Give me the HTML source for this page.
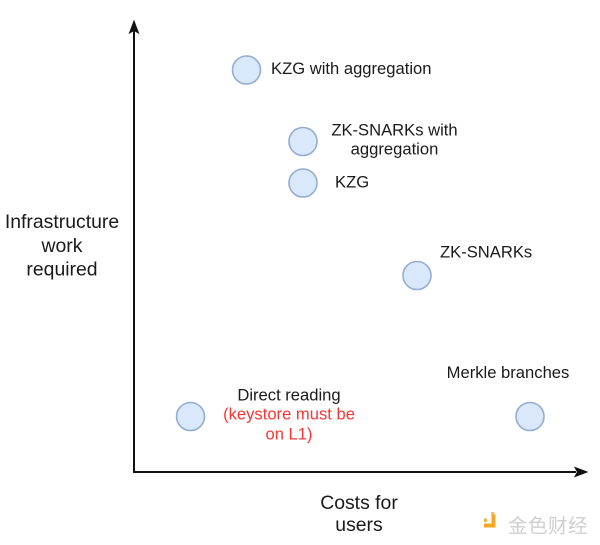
<!DOCTYPE html>
<html>
<head>
<meta charset="utf-8">
<style>
  html, body { margin: 0; padding: 0; background: #ffffff; }
  body { width: 600px; height: 545px; overflow: hidden; }
  svg { display: block; }
  text { font-family: "Liberation Sans", "Noto Sans CJK SC", sans-serif; fill: #1a1a1a; }
</style>
</head>
<body>
<svg width="600" height="545" viewBox="0 0 600 545" xmlns="http://www.w3.org/2000/svg">
  <rect x="0" y="0" width="600" height="545" fill="#ffffff"/>

  <!-- Axes -->
  <line x1="134" y1="472" x2="134" y2="31" stroke="#111" stroke-width="2"/>
  <polygon points="134,21 129.5,33 134,30.5 138.5,33" fill="#111" stroke="#111" stroke-width="1"/>
  <line x1="133" y1="472" x2="576" y2="472" stroke="#111" stroke-width="2"/>
  <polygon points="587,472 575,467.5 577.5,472 575,476.5" fill="#111" stroke="#111" stroke-width="1"/>

  <!-- Circles -->
  <g fill="#dae8fc" stroke="#93acd3" stroke-width="1.6">
    <circle cx="246.5" cy="70" r="14"/>
    <circle cx="303" cy="141.5" r="14"/>
    <circle cx="303" cy="183" r="14"/>
    <circle cx="417" cy="275.5" r="14"/>
    <circle cx="190.5" cy="416.5" r="14"/>
    <circle cx="530" cy="416.5" r="14"/>
  </g>

  <!-- Labels -->
  <g font-size="16.6" dominant-baseline="central">
    <text x="271" y="68.5">KZG with aggregation</text>
    <text x="394.5" y="130" text-anchor="middle">ZK-SNARKs with</text>
    <text x="394.5" y="149" text-anchor="middle">aggregation</text>
    <text x="335" y="182">KZG</text>
    <text x="440" y="252">ZK-SNARKs</text>
    <text x="508" y="372.5" text-anchor="middle">Merkle branches</text>
    <text x="289" y="395" text-anchor="middle">Direct reading</text>
    <text x="289" y="414" text-anchor="middle" style="fill:#ff3333">(keystore must be</text>
    <text x="289" y="434" text-anchor="middle" style="fill:#ff3333">on L1)</text>
  </g>

  <!-- Axis titles -->
  <g font-size="19.4" dominant-baseline="central" text-anchor="middle">
    <text x="62" y="222">Infrastructure</text>
    <text x="62" y="246">work</text>
    <text x="62" y="269.5">required</text>
    <text x="359" y="503">Costs for</text>
    <text x="359" y="525">users</text>
  </g>

  <!-- Watermark -->
  <g fill="#f5a623">
    <rect x="484" y="518.5" width="3" height="3.5" opacity="0.85"/>
    <rect x="491" y="512" width="3.5" height="3" fill="#f8c469"/>
    <rect x="491.5" y="514.5" width="4" height="13"/>
    <rect x="484" y="523.5" width="11.5" height="4"/>
  </g>
  <text x="508" y="524" font-size="19.5" dominant-baseline="central" style="fill:#cfcfcf; font-family:'Noto Sans CJK SC','WenQuanYi Zen Hei',sans-serif;" letter-spacing="0.5">金色财经</text>
</svg>
</body>
</html>
